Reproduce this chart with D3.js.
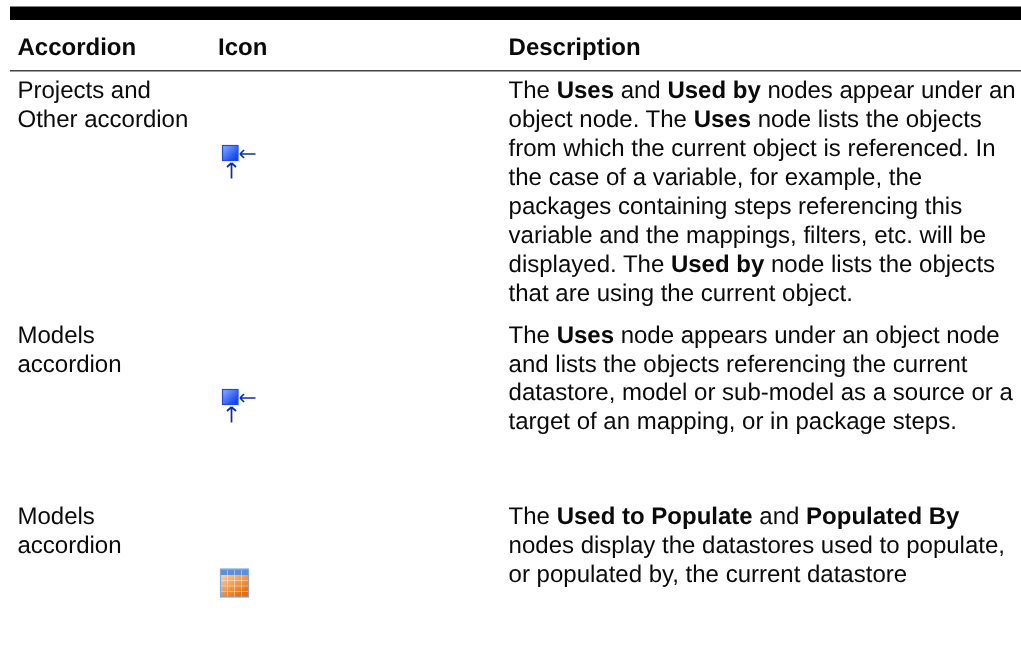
<!DOCTYPE html>
<html>
<head>
<meta charset="utf-8">
<script src="https://cdn.jsdelivr.net/npm/d3@7"></script>
<style>
  html, body { margin: 0; background: #fff; }
  text { font-family: "Liberation Sans", Arial, sans-serif; font-size: 24px; fill: #0a0a0a; text-rendering: geometricPrecision; }
</style>
</head>
<body>
<div id="chart"></div>
<script>
const headers = ["Accordion", "Icon", "Description"];
const accordions = [["Projects and", "Other accordion"], ["Models", "accordion"], ["Models", "accordion"]];
const icons = ["uses", "uses", "table"];
// **bold** marks the bold runs
const descriptions = [
  ["The **Uses** and **Used by** nodes appear under an", "object node. The **Uses** node lists the objects", "from which the current object is referenced. In", "the case of a variable, for example, the", "packages containing steps referencing this", "variable and the mappings, filters, etc. will be", "displayed. The **Used by** node lists the objects", "that are using the current object."],
  ["The **Uses** node appears under an object node", "and lists the objects referencing the current", "datastore, model or sub-model as a source or a", "target of an mapping, or in package steps."],
  ["The **Used to Populate** and **Populated By**", "nodes display the datastores used to populate,", "or populated by, the current datastore"]
];

const width = 1021, height = 667;
const svg = d3.select("#chart").append("svg").attr("width", width).attr("height", height)
  .style("display", "block").style("filter", "blur(0.3px)");

const x = d3.scaleOrdinal().domain(headers).range([17.5, 218, 508.6]);
const rowY = d3.scaleOrdinal().domain([0, 1, 2]).range([98.3, 342.6, 524.2]);
const iconY = d3.scaleOrdinal().domain([0, 1, 2]).range([145.5, 389.5, 569]);
const lineH = 28.9;

const defs = svg.append("defs");
const soft = defs.append("filter").attr("id", "soft");
soft.append("feGaussianBlur").attr("stdDeviation", 0.35);
const blue = defs.append("linearGradient").attr("id", "blue").attr("x1", 0).attr("y1", 0).attr("x2", 1).attr("y2", 1);
blue.append("stop").attr("offset", 0).attr("stop-color", "#8fb0fa");
blue.append("stop").attr("offset", 0.75).attr("stop-color", "#1d50f5");
blue.append("stop").attr("offset", 1).attr("stop-color", "#0a35e0");
const orange = defs.append("linearGradient").attr("id", "orange").attr("x1", 0).attr("y1", 0).attr("x2", 0.6).attr("y2", 1);
orange.append("stop").attr("offset", 0).attr("stop-color", "#fde3c4");
orange.append("stop").attr("offset", 1).attr("stop-color", "#e46f08");

svg.append("rect").attr("x", 10).attr("y", 6.5).attr("width", width - 10).attr("height", 13.5).attr("fill", "#000");

svg.selectAll("text.head").data(headers).enter().append("text")
  .attr("class", "head")
  .attr("x", (d) => x(d))
  .attr("y", 55)
  .style("font-weight", "bold")
  .text((d) => d);

svg.append("line").attr("x1", 10).attr("x2", width).attr("y1", 70.7).attr("y2", 70.7).attr("stroke", "#444").attr("stroke-width", 1.4);

accordions.forEach((lines, r) => {
  lines.forEach((t, i) => {
    svg.append("text").attr("x", x("Accordion")).attr("y", rowY(r) + i * lineH).text(t);
  });
});

descriptions.forEach((lines, r) => {
  lines.forEach((t, i) => {
    const el = svg.append("text").attr("x", x("Description")).attr("y", rowY(r) + i * lineH);
    t.split("**").forEach((part, j) => {
      el.append("tspan").style("font-weight", j % 2 ? "bold" : "normal").text(part);
    });
  });
});

function usesIcon(g) {
  g.append("rect").attr("x", 0).attr("y", 0).attr("width", 15.5).attr("height", 15)
    .attr("fill", "url(#blue)").attr("stroke", "#1a4cf0").attr("stroke-width", 1.2);
  g.append("path").attr("d", "M17.5 8.5H33M17.5 8.5l4-4M17.5 8.5l4 4")
    .attr("fill", "none").attr("stroke", "#0f2f9e").attr("stroke-width", 1.7);
  g.append("path").attr("d", "M9 33V17.5M9 17.5l-4.5 4M9 17.5l4.5 4")
    .attr("fill", "none").attr("stroke", "#0f2f9e").attr("stroke-width", 1.7);
}
function tableIcon(g) {
  g.append("rect").attr("x", 0).attr("y", 0).attr("width", 28).attr("height", 28)
    .attr("fill", "url(#orange)").attr("stroke", "#7fa9dd").attr("stroke-width", 1.2);
  g.append("rect").attr("x", 0.5).attr("y", 0.5).attr("width", 27).attr("height", 5.5).attr("fill", "#5c90da");
  d3.range(1, 4).forEach((i) => g.append("line").attr("x1", i * 7).attr("x2", i * 7).attr("y1", 1).attr("y2", 27.5)
    .attr("stroke", "#fff").attr("stroke-opacity", 0.4));
  d3.range(1, 4).forEach((i) => g.append("line").attr("x1", 0.5).attr("x2", 27.5).attr("y1", 6 + i * 5.5).attr("y2", 6 + i * 5.5)
    .attr("stroke", "#fff").attr("stroke-opacity", 0.4));
}
icons.forEach((k, r) => {
  const g = svg.append("g").attr("filter", "url(#soft)")
    .attr("transform", `translate(${k === "table" ? 220.5 : 222.5},${iconY(r)})`);
  if (k === "uses") usesIcon(g); else tableIcon(g);
});
</script>
</body>
</html>
